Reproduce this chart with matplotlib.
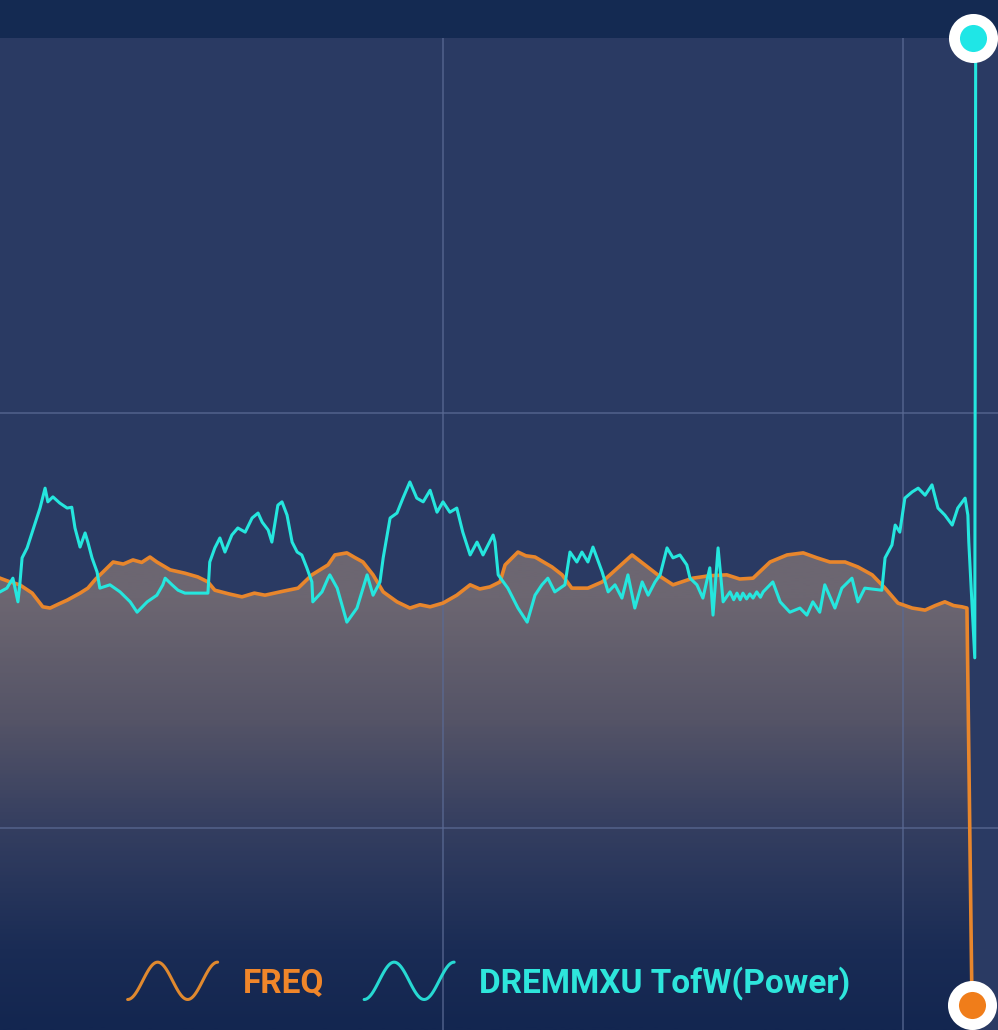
import numpy as np
import matplotlib.pyplot as plt
from matplotlib.colors import LinearSegmentedColormap
from matplotlib.legend_handler import HandlerBase
from matplotlib.lines import Line2D
from matplotlib.patches import PathPatch

# FREQ series (time, value)
freq_t = [3.7, 5.9, 8.0, 10.7, 13.0, 14.6, 16.5, 18.3, 21.1, 22.8, 24.5, 26.1, 28.3, 30.5,
          32.6, 34.5, 36.3, 37.8, 40.7, 43.9, 46.7, 48.9, 50.4, 53.5, 56.3, 59.0, 61.3, 65.0,
          68.5, 71.5, 75.0, 76.5, 79.1, 80.8, 82.6, 84.8, 87.0, 90.0, 92.8, 95.0, 97.2, 100.0,
          103.0, 105.9, 108.0, 110.2, 112.4, 113.5, 116.3, 118.0, 120.0, 123.7, 125.9, 128.0,
          131.5, 134.6, 138.0, 141.1, 143.9, 146.7, 150.0, 154.3, 158.0, 161.7, 164.5, 167.4,
          171.1, 174.8, 178.3, 181.3, 184.1, 187.4, 190.2, 193.3, 196.1, 198.9, 202.0, 204.8,
          207.0, 209.1, 211.0, 212.8, 213.9, 215.0]
freq_v = [60.2, 59.3, 58.6, 56.6, 53.3, 53.0, 54.0, 54.9, 56.6, 57.8, 60.0, 61.7, 64.1, 63.6,
          64.6, 64.0, 65.3, 64.1, 62.2, 61.4, 60.5, 59.3, 57.3, 56.4, 55.7, 56.6, 56.1, 57.0,
          57.8, 61.0, 63.4, 65.8, 66.3, 65.2, 64.1, 61.0, 56.9, 54.5, 53.0, 53.8, 53.3, 54.2,
          56.1, 58.6, 57.6, 58.1, 59.3, 63.4, 66.5, 65.6, 65.3, 62.9, 61.0, 57.8,
          57.8, 59.3, 62.7, 65.8, 63.4, 61.0, 58.6, 60.2, 60.8, 61.0, 60.0, 60.2,
          64.1, 65.8, 66.3, 65.1, 64.1, 64.1, 62.9, 61.0, 57.8, 54.2, 53.0, 52.5,
          53.6, 54.5, 53.6, 53.3, 53.0, -42.7]

# DREMMXU TofW(Power) series (time, value)
power_t = [3.7, 5.2, 6.5, 7.6, 8.0, 8.5, 9.6, 10.7, 11.7, 12.4, 13.5, 14.1, 15.2, 16.7, 18.3,
           19.3, 20.0, 21.1, 22.2, 22.8, 23.7, 24.8, 25.4, 27.6, 29.8, 32.0, 33.5, 35.7, 37.8,
           39.1, 39.6, 41.1, 42.4, 43.9, 48.9, 49.3, 50.4, 51.5, 52.6, 54.1, 55.4, 57.0, 58.5,
           59.8, 60.7, 62.0, 62.8, 64.1, 65.0, 66.1, 67.2, 68.3, 69.3, 70.4, 71.5, 71.7, 73.7,
           75.0, 75.4, 77.0, 79.1, 81.3, 83.5, 84.8, 86.3, 87.0, 88.5, 90.0, 91.3, 92.8, 94.3,
           95.7, 97.2, 98.7, 100.0, 101.5, 103.0, 104.3, 105.9, 107.4, 108.7, 110.9, 111.3,
           112.0, 114.1, 116.3, 118.3, 120.0, 121.5, 122.8, 124.3, 126.5, 127.6, 129.1, 130.2,
           131.5, 132.6, 134.6, 135.9, 137.4, 138.9, 140.2, 141.7, 143.3, 144.6, 146.1, 147.2,
           148.7, 150.0, 151.5, 153.0, 153.7, 155.2, 156.5, 158.0, 158.7, 159.8, 160.9, 162.4,
           163.2, 163.9, 164.6, 165.2, 166.0, 166.7, 167.4, 168.2, 169.0, 169.6, 171.7, 173.3,
           175.4, 177.6, 179.1, 180.4, 181.9, 183.0, 185.2, 186.7, 188.9, 190.2, 191.7, 195.4,
           196.1, 197.6, 198.3, 199.3, 200.4, 202.0, 203.3, 204.8, 206.3, 207.6, 209.1, 210.7,
           211.9, 213.5, 214.1, 214.3, 215.6, 215.8]
power_v = [56.9, 57.8, 60.2, 54.5, 58.6, 65.1, 67.5, 71.3, 74.7, 77.1, 81.9, 78.6, 79.8, 78.3, 77.1,
           77.3, 72.3, 67.7, 71.1, 68.9, 65.1, 61.7, 57.8, 58.6, 56.9, 54.5, 52.0, 54.5, 56.1,
           58.6, 60.2, 58.6, 57.3, 56.6, 56.6, 64.1, 67.5, 69.9, 66.5, 70.6, 72.3, 71.3, 74.7,
           75.9, 73.7, 71.8, 68.9, 77.8, 78.6, 75.4, 68.9, 66.5, 65.8, 62.7, 59.3, 54.5, 56.9,
           60.2, 61.0, 57.8, 49.6, 53.0, 61.0, 56.1, 59.3, 65.1, 74.7, 75.9, 79.5, 83.4, 79.5,
           78.6, 81.4, 76.1, 78.6, 76.1, 77.1, 71.3, 65.8, 68.9, 65.8, 70.6, 68.9,
           61.0, 57.8, 53.0, 49.6, 56.1, 58.6, 60.2, 56.9, 58.6, 66.5, 64.1, 66.5,
           64.1, 67.7, 61.7, 56.9, 58.6, 55.4, 61.0, 53.0, 59.3, 56.1, 59.3, 61.0,
           67.5, 65.1, 65.8, 63.4, 60.2, 58.6, 55.4, 62.7, 51.3, 67.5, 54.5, 56.9,
           55.0, 56.6, 55.0, 56.6, 55.2, 56.4, 55.4, 56.9, 55.6, 56.9, 59.3, 54.5,
           52.0, 53.0, 51.3, 54.5, 52.0, 58.6, 53.0, 57.8, 60.2, 54.5, 57.8, 57.3,
           65.1, 68.2, 73.0, 71.3, 79.5, 81.0, 81.9, 80.2, 82.7, 77.1, 75.4, 73.0,
           77.1, 79.5, 75.4, 68.9, 41.0, 190.4]

labels = ['FREQ', 'DREMMXU TofW(Power)']
freq_color = '#e8862c'
power_color = '#25e6de'

x_min, x_max = 3.7, 220.65
y_min, y_max = -48.7, 190.4


class WaveHandler(HandlerBase):
    def create_artists(self, legend, orig_handle, xdescent, ydescent,
                       width, height, fontsize, trans):
        s = np.linspace(0, 1, 80)
        x = -xdescent + s * width
        y = -ydescent + height / 2 - np.cos(3 * np.pi * s) * height * 0.8
        line = Line2D(x, y, color=orig_handle.get_color(),
                      lw=orig_handle.get_linewidth(), solid_capstyle='round')
        line.set_transform(trans)
        return [line]


fig = plt.figure(figsize=(9.98, 10.30), dpi=100, facecolor='#142a52')
ax = fig.add_axes([0, 0, 1, 992 / 1030])
ax.set_facecolor('#2a3a63')

# gradient fill below FREQ
levels = [y_min, -29.4, -0.5, 26.0, 54.9, y_max]
cols = ['#132650', '#1a2c55', '#343e60', '#555467', '#6c6671', '#6c6671']
pos = [(l - y_min) / (y_max - y_min) for l in levels]
cmap = LinearSegmentedColormap.from_list('fill', list(zip(pos, cols)))
grad = np.linspace(y_min, y_max, 500).reshape(-1, 1)
im = ax.imshow(grad, extent=[x_min, x_max, y_min, y_max], origin='lower',
               aspect='auto', cmap=cmap, vmin=y_min, vmax=y_max, zorder=1)
poly = ax.fill_between(freq_t, freq_v, y_min, facecolor='none', edgecolor='none')
clip = PathPatch(poly.get_paths()[0], transform=ax.transData,
                 facecolor='none', edgecolor='none')
ax.add_patch(clip)
im.set_clip_path(clip)

ax.plot(freq_t, freq_v, color=freq_color, lw=2.6, zorder=4, solid_joinstyle='round')
ax.plot(power_t, power_v, color=power_color, lw=2.2, zorder=5, solid_joinstyle='round')

# last-value markers
ax.plot(freq_t[-1], freq_v[-1], 'o', ms=27.4, mfc='#f07d1a', mec='white',
        mew=7.9, clip_on=False, zorder=6)
ax.plot(power_t[-1] - 0.6, power_v[-1], 'o', ms=27.4, mfc='#1fe6e6', mec='white',
        mew=7.9, clip_on=False, zorder=6)

ax.set_xlim(x_min, x_max)
ax.set_ylim(y_min, y_max)
ax.set_xticks([100, 200])
ax.set_yticks([0, 100])
ax.tick_params(length=0, labelbottom=False, labelleft=False)
ax.grid(True, color='#5a6a94', lw=1.3, alpha=0.7)
ax.set_axisbelow(False)
for sp in ax.spines.values():
    sp.set_visible(False)

handles = [Line2D([], [], color='#e0892f', lw=2.2),
           Line2D([], [], color='#27d9d2', lw=2.2)]
leg = fig.legend(handles, labels, loc='center', bbox_to_anchor=(0.49, 47 / 1030),
                 ncol=2, frameon=False, handler_map={Line2D: WaveHandler()},
                 handlelength=2.7, handleheight=0.7, handletextpad=0.75,
                 columnspacing=1.2,
                 prop={'family': ['Roboto', 'DejaVu Sans'],
                       'weight': 'bold', 'size': 24})
for txt, c in zip(leg.get_texts(), ['#f0862a', '#2ee6dc']):
    txt.set_color(c)

fig.savefig('out.png', dpi=100, facecolor=fig.get_facecolor())
